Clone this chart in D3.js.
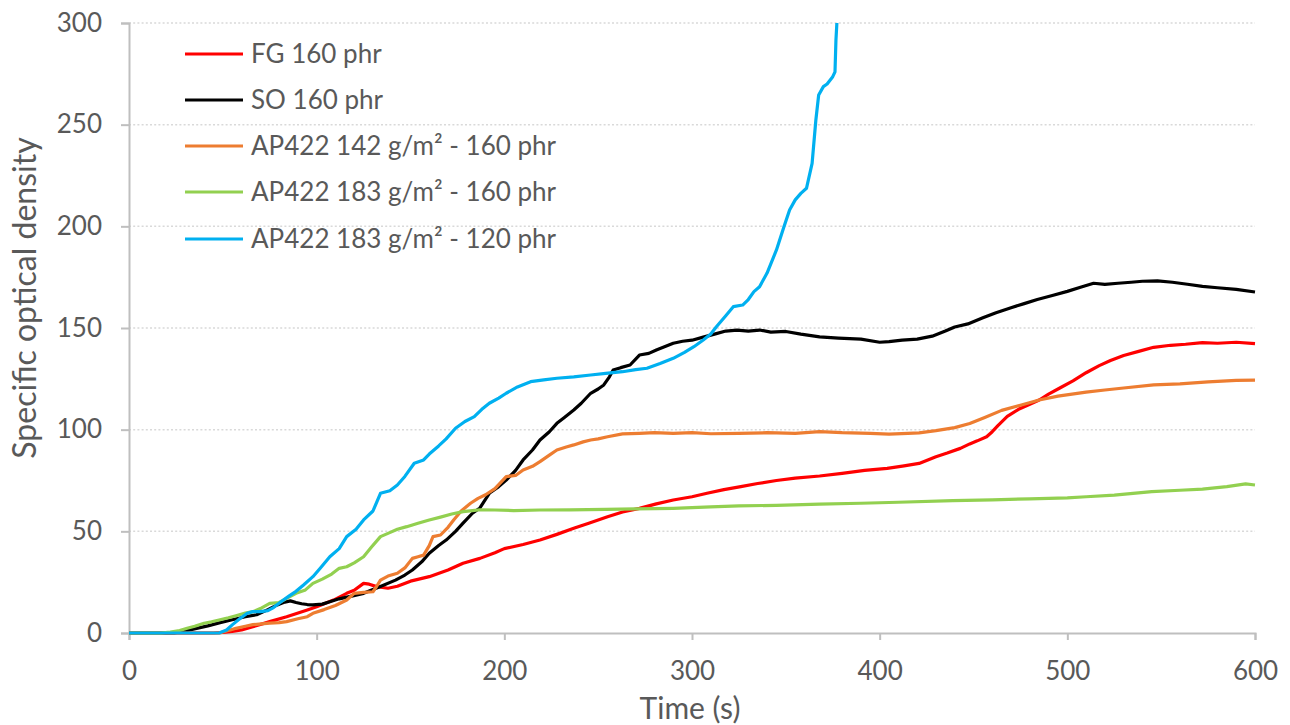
<!DOCTYPE html>
<html>
<head>
<meta charset="utf-8">
<script src="https://cdn.jsdelivr.net/npm/d3@7"></script>
<style>
  html, body { margin: 0; padding: 0; background: #fff; }
  svg { display: block; }
  text { font-family: Lato, "Open Sans", sans-serif; fill: #595959; }
</style>
</head>
<body>
<svg id="chart" width="1290" height="725"></svg>
<script>
// ---------- DATA ----------
const seriesNames = ["FG 160 phr", "SO 160 phr", "AP422 142 g/m² - 160 phr", "AP422 183 g/m² - 160 phr", "AP422 183 g/m² - 120 phr"];
const xTicks = [0, 100, 200, 300, 400, 500, 600];
const yTicks = [0, 50, 100, 150, 200, 250, 300];

const fgTime = [0,45,50,55,60,66,75,84,95,100,109,116,120,125,128,132,138,143,150,160,170,178,187,195,200,210,219,228,237,245,255,263,272,281,290,300,308,317,326,335,345,355,368,380,392,404,413,421,430,436,443,448,452,457,460,463,468,474,480,485,490,496,503,510,517,523,530,538,546,555,563,572,580,590,600];
const fgValues = [0,0,0.3,0.8,1.5,3.1,5.6,8,11.3,12.9,16.2,19.5,21,24.4,24,22.8,22,23,25.5,27.7,31,34.3,36.7,39.5,41.5,43.5,45.7,48.5,51.5,54,57.2,59.5,61.3,63.5,65.4,67,68.7,70.5,72,73.5,75,76.2,77.2,78.5,80,81,82.2,83.4,86.7,88.5,90.8,93,94.5,96.5,99,102,106.5,110,112.5,114.6,117.5,120.5,124,128,131.5,134,136.5,138.5,140.5,141.5,142,142.8,142.5,143,142.3];

const soTime = [0,24,30,36,42,48,55,62,68,74,79,83,86,89,92,95,98,103,107,112,118,125,133,142,147,151,156,160,165,169,174,178,183,187,192,197,201,206,210,215,219,224,228,232,237,241,246,250,253,256,258,262,267,272,277,281,286,290,295,300,306,312,318,324,330,336,342,350,358,368,378,390,400,405,412,420,428,435,440,447,455,462,470,477,484,492,500,507,514,520,527,534,540,548,556,564,572,580,590,600];
const soValues = [0,0,1,2.3,3.5,5,6.5,8,9,11.5,13.8,15.2,15.8,15,14.4,14,13.8,14.2,15.4,16.8,18,19.5,22.5,26,28.5,31,35,39.2,43,45.7,50,54,58.9,61.5,68.7,72,75.2,80,85.1,90,94.9,99,103.1,106,109.7,113,117.9,120,122,126,129.3,130.5,131.8,136.7,137.5,139.2,141,142.5,143.5,144,145.5,147,148.5,149,148.5,149,148,148.3,147,145.6,145,144.5,143,143.3,144,144.5,146,148.5,150.5,152,155,157.5,160,162,164,166,168,170,172,171.5,172,172.5,173,173.2,172.5,171.5,170.5,169.8,169,167.7];

const ap142Time = [0,48,54,57,62,66,72,75,80,84,90,95,98,104,110,116,120,125,130,132,134,138,143,147,151,154,157,160,162,166,170,173,177,182,186,190,195,201,206,210,215,219,224,228,233,237,242,246,250,255,263,272,280,290,300,310,325,340,355,368,380,395,405,415,421,430,440,448,456,465,475,485,495,510,520,530,546,560,575,590,600];
const ap142Values = [0,0,1.5,2.3,3.3,4.1,4.6,4.9,5.1,5.6,7,8,9.7,11.5,13.5,16.2,19.5,20,20.3,23,26,28,29.4,32,36.7,37.5,38.3,43,47.4,48.2,52,55.6,60,63.8,66.2,68,71,76.9,77.5,80.2,82,84.3,87.5,90,91.5,92.5,94,94.9,95.5,96.5,97.9,98.2,98.5,98.2,98.5,98,98.2,98.5,98.2,99,98.5,98.2,97.8,98.2,98.4,99.5,101,103,106,109.5,112,114.6,116.5,118.5,119.5,120.5,122,122.5,123.5,124.2,124.4];

const ap183Time = [0,17,22,27,31,35,40,44,48,53,57,62,66,70,75,80,84,89,94,98,103,108,112,116,120,125,129,134,138,143,148,154,160,166,172,178,183,187,195,205,219,235,254,270,290,310,325,345,368,390,410,439,460,480,500,510,525,545,560,572,585,595,600];
const ap183Values = [0,0,0.5,1.2,2.3,3.3,4.8,5.5,6.4,7.5,8.5,9.8,10.5,12,14.6,15,17,19.5,21.2,24.4,26.5,29,31.8,32.6,34.5,37.5,42,47.4,49,51,52.3,54,55.6,57,58.5,59.7,60.2,60.6,60.5,60.2,60.5,60.6,60.8,61,61.3,62,62.5,62.8,63.4,63.8,64.3,65.1,65.5,66,66.5,67,67.8,69.5,70.2,70.8,72,73.3,72.8];

const ap120Time = [0,48,52,55,59,63,66,70,74,77,81,85,89,93,98,102,107,112,116,121,125,130,134,139,143,147,152,157,160,165,169,174,179,184,188,192,197,201,207,214,221,228,237,246,254,263,270,276,283,290,296,301,306,310,313,318,322,327,330,333,336,340,345,349,352,355,358,361,364,366,367.5,370,372,375,376.2,376.7,377.5];
const ap120Values = [0,0,1.5,4,7,9.7,10.5,10.5,11,12.5,15.4,18,20.5,23.6,27.7,32,37.5,41.5,47.4,51,55.6,60,68.7,70,72.8,77,83.5,85.1,88,92,95.5,100.7,104,106.4,110,113,115.5,117.9,121,123.6,124.5,125.3,126,126.9,127.7,128.5,129.5,130.2,132.5,135.1,138,140.8,144.1,147,150.6,156,160.5,161.3,164,167.9,170.3,177,188.4,199.8,208,213,216.2,218.7,231,252.3,264.6,268.7,270,273.6,276,291.6,305];

const seriesColors = ["#ff0000", "#000000", "#ed7d31", "#92d050", "#00b0f0"];

// ---------- CHART ----------
const svg = d3.select("#chart");
const plotLeft = 129, plotRight = 1255, plotTop = 23, plotBottom = 633;

const x = d3.scaleLinear().domain([0, 600]).range([plotLeft, plotRight]);
const y = d3.scaleLinear().domain([0, 300]).range([plotBottom, plotTop]);

// gridlines
svg.append("g").selectAll("line").data(yTicks.filter(d => d > 0)).join("line")
  .attr("x1", plotLeft).attr("x2", plotRight)
  .attr("y1", d => y(d)).attr("y2", d => y(d))
  .attr("stroke", "#d9d9d9").attr("stroke-width", 1.5).attr("stroke-dasharray", "2,2.2");

// y axis
const yAxis = svg.append("g").attr("transform", `translate(${plotLeft},0)`)
  .call(d3.axisLeft(y).tickValues(yTicks).tickSize(8).tickPadding(19));
yAxis.select(".domain").attr("stroke", "#bfbfbf").attr("stroke-width", 2);
yAxis.selectAll(".tick line").attr("stroke", "#bfbfbf").attr("stroke-width", 2);
yAxis.selectAll(".tick text").attr("font-size", 26).attr("fill", "#595959").attr("font-family", "Lato, sans-serif");

// x axis
const xAxis = svg.append("g").attr("transform", `translate(0,${plotBottom})`)
  .call(d3.axisBottom(x).tickValues(xTicks).tickSize(7).tickPadding(22));
xAxis.select(".domain").attr("stroke", "#bfbfbf").attr("stroke-width", 2);
xAxis.selectAll(".tick line").attr("stroke", "#bfbfbf").attr("stroke-width", 2);
xAxis.selectAll(".tick text").attr("font-size", 26).attr("fill", "#595959").attr("font-family", "Lato, sans-serif");

// axis titles
svg.append("text").attr("x", 690).attr("y", 719).attr("text-anchor", "middle")
  .attr("font-size", 30).text("Time (s)");
svg.append("text").attr("transform", "translate(36,298) rotate(-90)").attr("text-anchor", "middle")
  .attr("font-size", 32).text("Specific optical density");

// clip
svg.append("defs").append("clipPath").attr("id", "plotclip")
  .append("rect").attr("x", plotLeft - 5).attr("y", plotTop).attr("width", plotRight - plotLeft + 10).attr("height", plotBottom - plotTop + 10);

const seriesData = [
  [fgTime, fgValues],
  [soTime, soValues],
  [ap142Time, ap142Values],
  [ap183Time, ap183Values],
  [ap120Time, ap120Values]
];

const line = d3.line().x(d => x(d[0])).y(d => y(d[1]));
const g = svg.append("g").attr("clip-path", "url(#plotclip)");
seriesData.forEach((s, i) => {
  const pts = s[0].map((t, j) => [t, s[1][j]]);
  g.append("path").datum(pts)
    .attr("fill", "none").attr("stroke", seriesColors[i])
    .attr("stroke-width", 3.2).attr("stroke-linejoin", "round")
    .attr("d", line);
});

// legend
const legend = svg.append("g");
const legY = [54, 100, 146, 192, 239];
seriesNames.forEach((name, i) => {
  legend.append("line").attr("x1", 185).attr("x2", 243)
    .attr("y1", legY[i]).attr("y2", legY[i])
    .attr("stroke", seriesColors[i]).attr("stroke-width", 3.2);
  legend.append("text").attr("x", 251).attr("y", legY[i]).attr("dy", "0.35em")
    .attr("font-size", 26).text(name);
});
</script>
</body>
</html>
